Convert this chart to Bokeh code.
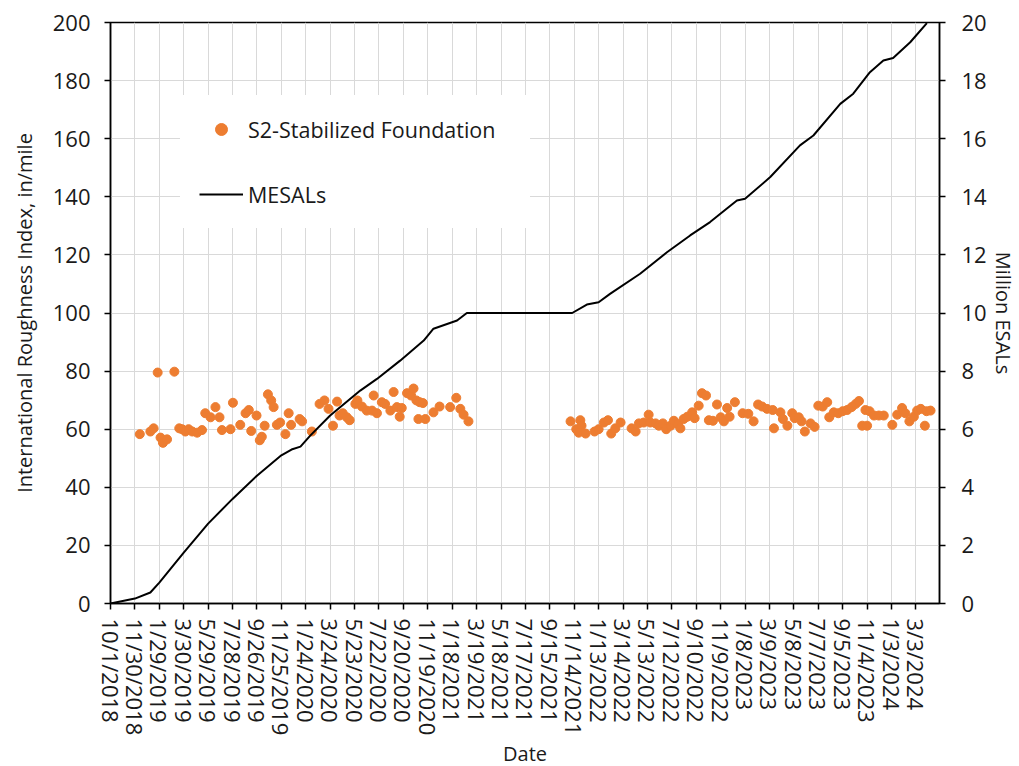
from bokeh.plotting import figure
from bokeh.models import Range1d, LinearAxis, FixedTicker, Legend, LegendItem
from bokeh.embed import file_html
from bokeh.resources import INLINE

# ---------------- DATA ----------------
# x values are days since 10/1/2018
iri_days = [72, 98, 106, 116, 123, 129, 139, 157, 169, 176, 184, 192, 201, 213, 225,
            233, 246, 258, 268, 274, 295, 301, 319, 332, 340, 346, 359, 367, 372, 379,
            387, 395, 401, 409, 417, 430, 438, 444, 465, 471, 495, 514, 526, 536, 547,
            557, 563, 571, 581, 588, 602, 607, 618, 630, 643, 647, 655, 667, 675, 688,
            696, 704, 711, 716, 729, 739, 745, 752, 760, 768, 757, 774, 794, 809, 835,
            850, 860, 868, 880,
            1131, 1145, 1155, 1158, 1151, 1168, 1190, 1200, 1213, 1223, 1231, 1241, 1254,
            1281, 1291, 1299, 1311, 1323, 1327, 1340, 1348, 1358, 1366, 1377, 1385, 1395,
            1401, 1409, 1418, 1430, 1436, 1446, 1454, 1464, 1471, 1481, 1491, 1500, 1508,
            1516, 1522, 1535, 1554, 1568, 1581, 1592, 1602, 1614, 1628, 1631, 1647, 1653,
            1664, 1676, 1682, 1692, 1699, 1707, 1721, 1731, 1740, 1751, 1762, 1767, 1778,
            1789, 1800, 1811, 1822, 1832, 1840, 1848, 1860, 1856, 1866, 1877, 1889, 1901,
            1922, 1934, 1946, 1954, 1964, 1975, 1983, 1992, 2002, 2006, 2016]
iri_values = [58.3, 59.2, 60.3, 79.5, 57.1, 55.3, 56.5, 79.8, 60.3, 60.0, 59.2, 60.0, 59.2, 58.8, 59.7,
              65.5, 64.1, 67.6, 64.1, 59.7, 60.0, 69.1, 61.5, 65.5, 66.6, 59.4, 64.7, 56.2, 57.4, 61.2,
              72.0, 69.9, 67.6, 61.5, 62.3, 58.3, 65.5, 61.5, 63.5, 62.7, 59.2, 68.7, 69.9, 67.0, 61.2,
              69.5, 64.7, 65.5, 64.1, 63.1, 68.7, 69.9, 67.8, 66.4, 66.4, 71.6, 65.5, 69.3, 68.7, 66.4,
              72.8, 67.6, 64.3, 67.3, 72.4, 71.6, 74.0, 69.9, 69.3, 69.0, 63.5, 63.5, 65.8, 67.8, 67.6,
              70.8, 67.0, 65.0, 62.7,
              62.7, 60.0, 63.1, 61.2, 58.8, 58.5, 59.2, 60.0, 62.3, 63.1, 58.5, 60.3, 62.3,
              60.3, 59.2, 62.0, 62.3, 65.0, 62.3, 62.0, 61.2, 62.0, 60.0, 61.2, 62.9, 61.7,
              60.3, 63.5, 64.3, 65.8, 63.8, 68.1, 72.4, 71.6, 63.1, 62.9, 68.5, 64.1, 62.7,
              67.3, 64.3, 69.3, 65.5, 65.3, 62.7, 68.5, 67.8, 67.0, 66.6, 60.3, 65.8, 63.5,
              61.2, 65.5, 63.8, 64.1, 62.7, 59.2, 62.0, 60.8, 68.1, 67.8, 69.3, 64.1, 65.8,
              65.5, 66.2, 66.6, 67.6, 68.7, 69.7, 61.2, 61.2, 66.6, 66.2, 64.7, 64.7, 64.7,
              61.5, 65.0, 67.3, 65.5, 62.7, 64.3, 66.4, 67.0, 61.2, 66.2, 66.4]

mesal_days = [0, 60, 98, 120, 180, 240, 300, 360, 420, 445, 467, 491, 540, 614, 655,
              712, 770, 794, 852, 876, 1135, 1171, 1200, 1228, 1302, 1368, 1425, 1474,
              1540, 1560, 1622, 1695, 1728, 1794, 1826, 1867, 1900, 1924, 1966, 2007]
mesal_values = [0.0, 0.17, 0.38, 0.72, 1.75, 2.75, 3.6, 4.4, 5.1, 5.3, 5.4, 5.78, 6.47, 7.33, 7.73,
                8.36, 9.05, 9.46, 9.74, 10.0, 10.0, 10.29, 10.37, 10.66, 11.35, 12.09, 12.67, 13.13,
                13.87, 13.93, 14.68, 15.77, 16.11, 17.2, 17.55, 18.29, 18.69, 18.78, 19.32, 19.98]

tick_days = list(range(0, 1981, 60))
tick_labels = ["10/1/2018", "11/30/2018", "1/29/2019", "3/30/2019", "5/29/2019", "7/28/2019",
               "9/26/2019", "11/25/2019", "1/24/2020", "3/24/2020", "5/23/2020", "7/22/2020",
               "9/20/2020", "11/19/2020", "1/18/2021", "3/19/2021", "5/18/2021", "7/17/2021",
               "9/15/2021", "11/14/2021", "1/13/2022", "3/14/2022", "5/13/2022", "7/12/2022",
               "9/10/2022", "11/9/2022", "1/8/2023", "3/9/2023", "5/8/2023", "7/7/2023",
               "9/5/2023", "11/4/2023", "1/3/2024", "3/3/2024"]

# ---------------- STYLE ----------------
FONT = "Open Sans"
TXT = "#1a1a1a"
ORANGE = "#ED7D31"

p = figure(frame_width=829, frame_height=581, output_backend="svg", toolbar_location=None,
           x_range=Range1d(0, 2038), y_range=Range1d(0, 200),
           min_border_left=110, min_border_top=22, min_border_right=0, min_border_bottom=4)
p.extra_y_ranges = {"mesal": Range1d(0, 20)}

p.outline_line_color = "black"
p.outline_line_width = 1.5
p.background_fill_color = "white"
p.border_fill_color = "white"

# grids
p.xgrid.ticker = FixedTicker(ticks=tick_days)
p.ygrid.ticker = FixedTicker(ticks=list(range(0, 201, 20)))
for g in (p.xgrid, p.ygrid):
    g.grid_line_color = "#d9d9d9"
    g.grid_line_width = 1

# x axis
xa = p.xaxis[0]
xa.ticker = FixedTicker(ticks=tick_days)
xa.major_label_overrides = {d: lab for d, lab in zip(tick_days, tick_labels)}
xa.major_label_orientation = "vertical"
xa.axis_label = "Date"

# left axis
ya = p.yaxis[0]
ya.ticker = FixedTicker(ticks=list(range(0, 201, 20)))
ya.axis_label = "International Roughness Index, in/mile"

# right axis
ra = LinearAxis(y_range_name="mesal", ticker=FixedTicker(ticks=list(range(0, 21, 2))),
                axis_label="Million ESALs")
p.add_layout(ra, "right")

for ax in (xa, ya, ra):
    ax.axis_line_color = "black"
    ax.axis_line_width = 1.5
    ax.major_tick_line_color = "black"
    ax.major_tick_line_width = 1.5
    ax.major_tick_in = 0
    ax.major_tick_out = 6
    ax.minor_tick_line_color = None
    ax.major_label_text_font = FONT
    ax.major_label_text_font_size = "22px"
    ax.major_label_text_color = TXT
    ax.axis_label_text_font = FONT
    ax.axis_label_text_font_size = "20px"
    ax.axis_label_text_font_style = "normal"
    ax.axis_label_text_color = TXT

xa.major_label_standoff = 9
xa.axis_label_standoff = 2
ya.major_label_standoff = 14
ya.axis_label_standoff = 12
ra.major_label_standoff = 16
ra.axis_label_standoff = 0

# glyphs
sc = p.scatter(iri_days, iri_values, size=9, fill_color=ORANGE, line_color=ORANGE, marker="circle")
ln = p.line(mesal_days, mesal_values, y_range_name="mesal", line_color="black", line_width=2)

legend = Legend(items=[LegendItem(label="S2-Stabilized Foundation", renderers=[sc]),
                       LegendItem(label="MESALs", renderers=[ln])],
                location=(70, 375))
legend.background_fill_color = "white"
legend.background_fill_alpha = 1
legend.border_line_color = "white"
legend.border_line_width = 1
legend.label_text_font = FONT
legend.label_text_font_size = "21.5px"
legend.label_text_color = TXT
legend.glyph_width = 44
legend.glyph_height = 30
legend.label_height = 30
legend.spacing = 35
legend.padding = 18
legend.margin = 0
legend.label_standoff = 5
legend.label_width = 263
p.add_layout(legend)

open("out.html", "w").write(file_html(p, INLINE))
